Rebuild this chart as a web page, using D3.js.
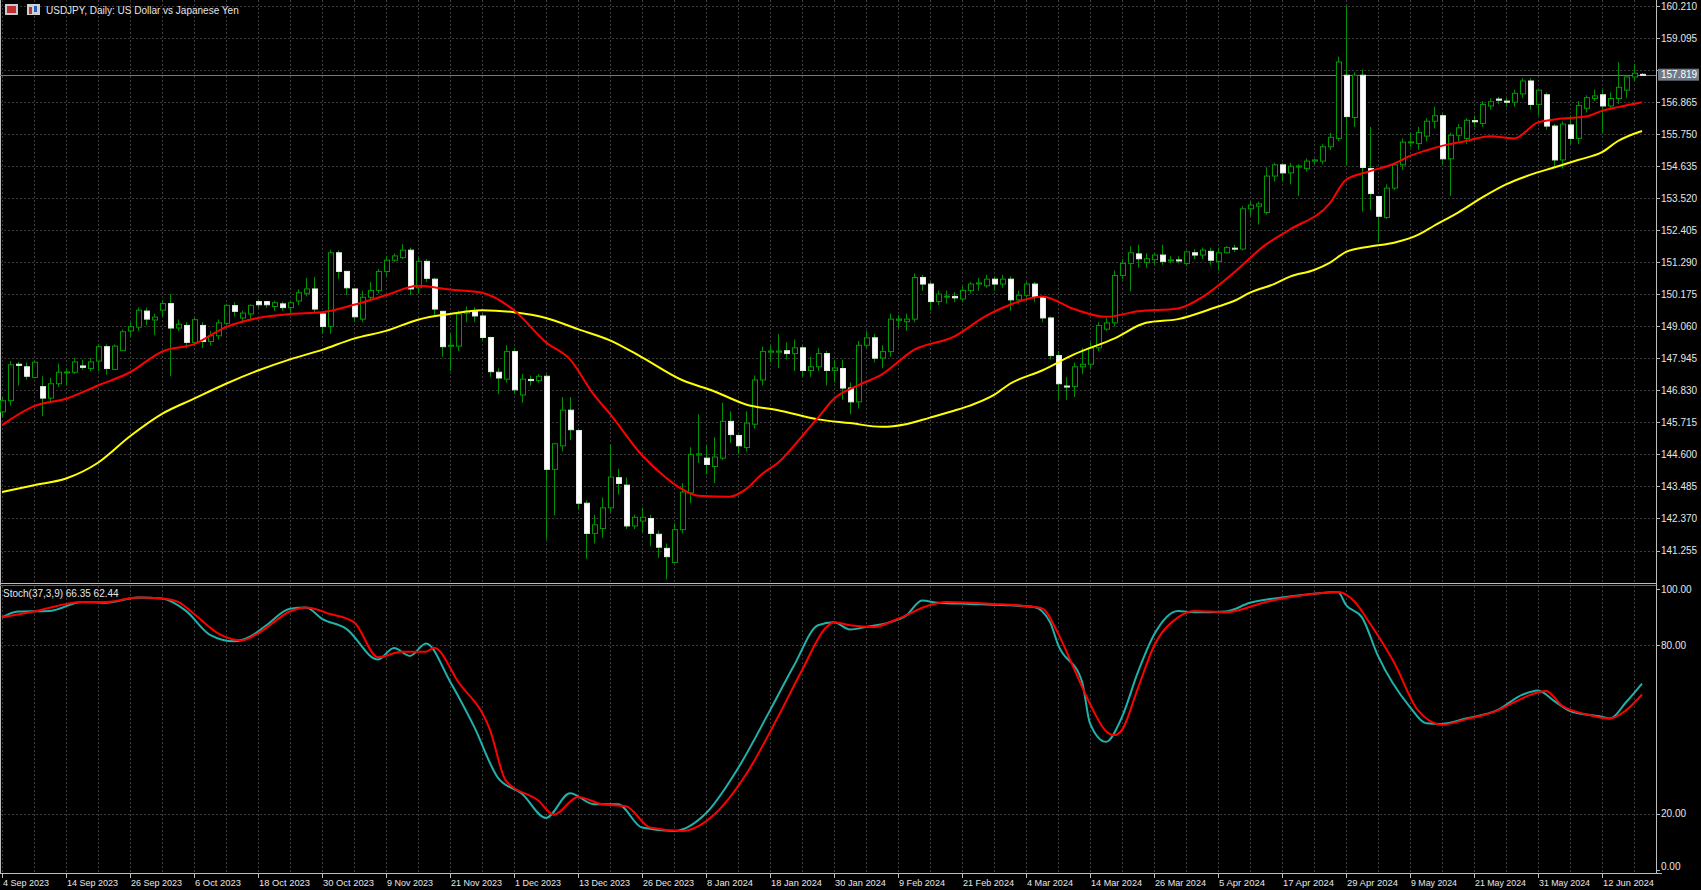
<!DOCTYPE html>
<html>
<head>
<meta charset="utf-8">
<script src="https://cdn.jsdelivr.net/npm/d3@7"></script>
<style>
  body { margin: 0; background: #000; }
  svg { display: block; }
  text { font-family: "Liberation Sans", Arial, sans-serif; font-size: 10px; fill: #e6e6e6; }
</style>
</head>
<body>
<svg width="1701" height="890"></svg>
<script>
// daily OHLC, 4 Sep 2023 .. 19 Jun 2024 (bar index 0..205)
var opens = [146.08,146.47,147.74,147.65,147.28,146.96,146.56,147.06,147.46,147.46,147.68,147.59,147.85,148.35,147.56,148.21,148.90,149.03,149.59,149.28,
  149.62,149.85,149.00,149.09,148.50,149.09,148.53,148.73,149.16,149.78,149.35,149.49,149.92,149.92,149.75,149.84,149.71,149.94,150.21,150.36,
  149.49,149.05,151.62,150.97,150.36,149.31,150.07,150.31,150.97,151.36,151.45,151.71,150.40,151.32,150.70,149.58,148.37,148.37,149.52,149.58,
  149.42,148.67,147.46,147.22,148.18,146.67,147.21,147.17,147.32,144.08,144.90,146.14,145.43,142.90,141.85,142.02,142.74,143.79,143.53,142.11,
  142.28,142.37,141.82,141.33,140.84,141.98,143.26,144.58,144.47,144.18,144.47,145.75,145.26,144.84,145.65,147.19,148.16,148.16,148.21,148.11,
  148.31,147.52,147.65,148.11,147.52,147.59,146.91,146.43,148.40,148.66,147.95,148.18,149.27,149.22,149.31,150.76,150.53,149.92,150.10,150.10,
  150.01,150.31,150.53,150.47,150.70,150.53,150.70,149.98,150.14,150.53,150.07,149.35,148.04,146.98,146.96,147.65,147.74,148.31,148.96,149.18,
  150.83,151.25,151.58,151.28,151.38,151.54,151.36,151.37,151.25,151.62,151.54,151.67,151.32,151.62,151.78,151.75,153.15,153.24,153.02,154.29,
  154.68,154.40,154.63,154.55,154.81,154.81,155.31,155.60,157.80,156.33,157.80,154.55,153.58,152.85,153.87,154.68,155.47,155.42,155.68,156.20,
  156.39,154.89,155.71,155.60,156.22,156.12,156.73,156.97,156.90,156.86,157.15,157.60,156.78,157.12,156.03,154.85,156.07,155.60,156.65,156.99,
  157.12,156.73,156.99,157.28,157.74,157.83];
var highs = [146.60,147.85,147.82,147.80,147.86,147.32,147.27,147.76,147.60,147.96,147.90,147.96,148.43,148.43,148.43,148.95,149.20,149.72,149.71,149.50,
  149.95,150.18,149.30,149.20,149.35,149.20,148.90,149.30,149.85,149.90,149.60,149.82,150.00,149.95,149.95,149.92,149.95,150.35,150.75,150.78,
  149.50,151.72,151.70,151.00,150.40,150.30,150.60,151.05,151.50,151.60,151.92,151.80,151.45,151.40,150.75,149.60,148.80,149.60,149.75,149.72,
  149.50,148.70,147.60,148.40,148.30,147.40,147.35,147.40,147.40,145.00,146.60,146.60,145.50,143.00,142.50,143.10,144.95,144.10,143.80,142.50,
  142.75,142.50,141.95,141.50,142.20,143.60,144.85,146.00,144.90,145.20,146.40,146.10,145.30,146.10,147.35,148.35,148.40,148.80,148.50,148.60,
  148.40,148.00,148.30,148.20,147.90,147.90,147.10,148.55,148.90,148.80,148.40,149.50,149.45,149.50,150.90,150.85,150.60,150.30,150.30,150.25,
  150.45,150.60,150.75,150.85,150.80,150.85,150.80,150.30,150.60,150.60,150.10,149.40,148.20,147.30,147.80,148.30,148.50,149.20,149.35,151.00,
  151.40,151.85,151.90,151.60,151.60,151.90,151.50,151.50,151.70,151.75,151.80,151.80,151.80,151.85,151.90,153.25,153.40,153.40,154.60,154.75,
  154.75,154.75,154.70,154.90,154.90,155.40,155.80,158.45,160.20,157.90,158.00,156.00,153.60,154.00,154.75,155.60,155.80,156.00,156.30,156.70,
  156.45,155.80,156.10,156.30,156.40,156.90,157.00,157.05,157.00,157.30,157.70,157.70,157.30,157.20,156.10,156.20,156.40,156.90,157.10,157.30,
  157.30,157.20,158.25,157.80,158.20,157.88];
var lows = [145.90,146.30,147.00,147.20,147.25,145.93,146.45,146.95,147.00,147.40,147.55,147.50,147.50,147.38,147.55,148.20,148.70,148.90,149.10,148.75,
  149.40,147.32,148.90,148.30,148.40,148.30,148.40,148.60,149.10,149.40,149.20,149.30,149.70,149.70,149.60,149.60,149.50,149.80,150.10,149.55,
  148.80,148.80,150.70,150.15,149.20,149.20,150.00,150.20,150.80,151.30,151.40,150.15,150.20,150.60,149.40,148.00,147.50,148.20,149.20,149.20,
  148.55,147.30,146.70,147.10,146.70,146.40,147.00,147.10,141.63,142.48,144.70,145.10,142.70,140.97,141.50,141.70,142.60,143.20,142.00,142.00,
  141.90,141.40,141.00,140.25,140.80,141.85,142.90,144.30,143.90,143.60,144.40,145.00,144.60,144.70,145.50,147.00,147.80,147.60,147.90,147.50,
  147.30,147.30,147.50,147.00,147.10,146.50,146.00,146.20,148.30,147.80,147.60,148.00,149.00,148.90,149.20,150.30,149.60,149.80,149.85,149.90,
  149.90,150.20,150.30,150.40,150.30,150.40,149.60,149.85,150.00,149.90,149.20,147.90,146.50,146.50,146.60,147.40,147.60,148.20,148.90,149.05,
  150.70,150.27,151.10,151.10,151.20,151.20,151.25,151.25,151.15,151.40,151.40,151.20,151.00,151.60,151.65,151.70,152.90,152.60,152.95,154.10,
  154.10,154.00,153.60,154.45,154.70,154.70,155.20,155.50,154.66,156.00,153.05,153.10,151.97,152.80,153.80,154.50,155.30,155.20,155.50,155.95,
  154.70,153.60,155.50,155.40,156.00,156.00,156.60,156.80,156.70,156.70,157.00,156.60,156.40,155.90,154.60,154.55,155.40,155.40,156.50,156.90,
  155.77,156.60,156.80,157.00,157.60,157.78];
var closes = [146.47,147.72,147.70,147.32,147.81,146.56,147.06,147.46,147.47,147.82,147.63,147.82,148.35,147.59,148.37,148.87,149.05,149.62,149.31,149.38,
  149.85,149.00,149.13,148.50,149.29,148.53,148.73,149.18,149.79,149.58,149.52,149.79,149.81,149.81,149.88,149.71,149.88,150.23,150.36,149.66,
  149.05,151.62,150.97,150.40,149.39,150.07,150.31,150.97,151.36,151.51,151.71,150.36,151.32,150.73,149.66,148.35,148.40,149.49,149.58,149.42,
  148.67,147.48,147.26,148.18,146.85,147.22,147.17,147.32,144.08,144.97,146.14,145.46,142.90,141.85,142.15,142.74,143.81,143.59,142.11,142.41,
  142.41,141.85,141.37,141.04,141.98,143.29,144.60,144.62,144.25,144.51,145.75,145.29,144.90,145.69,147.19,148.18,148.20,148.20,148.11,148.31,
  147.52,147.65,148.11,147.52,147.61,146.91,146.43,148.40,148.66,147.95,148.18,149.31,149.31,149.31,150.76,150.53,149.92,150.18,150.11,150.05,
  150.31,150.53,150.57,150.70,150.53,150.70,149.98,150.14,150.53,150.07,149.35,148.04,147.06,146.96,147.65,147.74,148.31,149.09,149.18,150.83,
  151.25,151.62,151.41,151.41,151.54,151.32,151.37,151.36,151.65,151.54,151.71,151.36,151.62,151.80,151.77,153.15,153.28,153.32,154.29,154.68,
  154.40,154.63,154.64,154.81,154.85,155.31,155.64,158.26,156.36,157.80,154.59,153.68,152.89,153.87,154.68,155.47,155.48,155.81,156.20,156.39,
  154.89,155.71,155.97,156.23,156.18,156.78,156.88,156.93,156.86,157.17,157.60,156.78,157.28,156.03,154.85,156.10,155.60,156.75,157.02,157.08,
  156.73,156.99,157.38,157.74,157.87,157.82];

// moving averages, read at these bar indices
var redIdx = [0,4,8,12,16,20,24,28,32,36,40,44,48,52,56,60,64,68,71,74,76,80,83,85,87,91,93,95,97,100,102,104,107,110,114,119,123,126,130,134,138,142,147,150,152,154,158,161,166,168,171,174,176,178,180,183,186,189,192,195,198,200,202,205];
var redMA = [145.62,146.28,146.54,147.00,147.46,148.18,148.44,149.03,149.35,149.49,149.55,149.81,150.14,150.47,150.34,150.23,149.62,148.50,147.91,146.67,146.01,144.57,143.79,143.39,143.16,143.13,143.39,143.92,144.31,145.23,145.88,146.54,147.00,147.39,148.24,148.70,149.42,149.81,150.10,149.66,149.39,149.58,149.68,150.07,150.47,150.93,151.91,152.43,153.35,154.16,154.46,154.72,154.99,155.18,155.34,155.51,155.68,155.60,156.16,156.29,156.36,156.56,156.69,156.86];
var yelIdx = [0,4,8,12,16,20,24,28,32,36,40,44,48,52,56,60,64,68,72,76,80,85,89,93,97,102,106,110,113,116,119,121,124,126,130,134,139,143,147,152,154,156,159,161,164,166,168,171,174,177,179,182,185,188,191,194,197,200,202,205];
var yelMA = [143.29,143.53,143.76,144.31,145.23,146.01,146.54,147.06,147.52,147.91,148.24,148.63,148.90,149.29,149.49,149.62,149.55,149.35,148.96,148.57,147.98,147.19,146.80,146.34,146.14,145.82,145.69,145.56,145.65,145.88,146.12,146.30,146.67,147.06,147.52,148.08,148.63,149.18,149.31,149.75,149.94,150.23,150.53,150.79,151.02,151.28,151.65,151.84,151.97,152.24,152.56,153.02,153.54,154.00,154.33,154.59,154.85,155.12,155.51,155.86];

// stochastic (37,3,9)
var kIdx = [0,2,6,10,13,17,20,23,26,29,31,33,36,38,40,43,47,49,51,53,56,59,62,65,68,71,74,77,80,84,88,92,96,99,102,104,106,108,111,113,115,117,121,125,129,131,132,135,136,138,140,142,144,147,149,153,156,160,164,167,168,170,172,176,178,180,183,187,190,192,194,196,200,201,203,205];
var kVal = [89.9,92.0,92.2,95.4,95.1,97.0,96.6,92.2,83.7,81.4,83.0,87.0,93.0,93.4,89.4,85.9,74.9,79.0,76.2,80.6,67.1,51.1,32.8,27.1,18.5,27.3,23.4,23.4,15.1,13.9,20.2,36.2,56.8,72.8,87.1,88.2,85.6,86.5,88.2,90.5,95.9,95.1,94.7,94.3,93.6,88.2,80.2,67.1,52.2,45.6,54.5,70.5,83.7,92.2,91.7,92.0,95.1,97.0,98.3,98.9,94.3,89.9,76.2,58.0,52.2,52.0,53.9,57.0,62.3,63.9,60.2,56.6,54.5,53.9,59.7,66.35];
var dIdx = [0,4,10,13,17,20,22,24,27,30,32,36,38,41,44,47,50,53,54,57,61,63,67,69,72,75,78,81,85,89,93,97,100,103,104,106,109,112,116,118,124,128,130,132,134,136,138,139,140,142,144,147,149,153,158,164,167,169,171,174,177,180,183,187,189,193,195,198,201,203,205];
var dVal = [89.9,92.0,95.4,95.4,97.0,96.6,95.4,91.1,84.2,81.7,84.2,92.0,93.4,91.1,88.2,75.7,77.7,77.7,79.1,67.1,49.9,31.7,24.8,19.7,26.0,23.4,22.7,15.1,13.9,19.7,34.0,54.5,71.1,86.3,88.2,87.1,86.5,89.4,94.3,95.4,94.7,93.9,93.1,84.2,71.7,59.1,49.4,48.0,49.9,64.8,79.7,89.9,92.2,91.7,95.4,98.3,98.9,95.7,87.7,73.9,56.8,51.7,53.6,56.8,59.7,63.7,58.5,55.4,53.9,56.8,62.44];

var priceTicks = [160.210,159.095,157.980,156.865,155.750,154.635,153.520,152.405,151.290,150.175,149.060,147.945,146.830,145.715,144.600,143.485,142.370,141.255];
var stochTicks = [100, 80, 20, 0];
var dateIdx = [0,8,16,24,32,40,48,56,64,72,80,88,96,104,112,120,128,136,144,152,160,168,176,184,192,200];
var dateLabels = ["4 Sep 2023","14 Sep 2023","26 Sep 2023","6 Oct 2023","18 Oct 2023","30 Oct 2023","9 Nov 2023","21 Nov 2023","1 Dec 2023","13 Dec 2023",
  "26 Dec 2023","8 Jan 2024","18 Jan 2024","30 Jan 2024","9 Feb 2024","21 Feb 2024","4 Mar 2024","14 Mar 2024","26 Mar 2024","5 Apr 2024",
  "17 Apr 2024","29 Apr 2024","9 May 2024","21 May 2024","31 May 2024","12 Jun 2024"];
var bid = 157.819;

var svg = d3.select("svg"),
  plotRight = 1656,
  mainTop = 0, mainBottom = 583,
  stTop = 586, stBottom = 873;

svg.append("rect").attr("width", 1701).attr("height", 890).attr("fill", "#000");

var x = d3.scaleLinear().domain([0, 1]).range([2, 10]);
var y = d3.scaleLinear().domain([141.255, 160.21]).range([550.5, 6]);
var ys = d3.scaleLinear().domain([0, 100]).range([870, 589]);

var grid = svg.append("g").attr("stroke", "#3a3a3a").attr("stroke-dasharray", "2,2");
d3.range(0, 208, 4).forEach(function(i) {
  grid.append("line").attr("x1", x(i) + 0.5).attr("x2", x(i) + 0.5).attr("y1", mainTop).attr("y2", mainBottom);
  grid.append("line").attr("x1", x(i) + 0.5).attr("x2", x(i) + 0.5).attr("y1", stTop).attr("y2", stBottom);
});
priceTicks.forEach(function(p) {
  grid.append("line").attr("x1", 0).attr("x2", plotRight).attr("y1", Math.round(y(p)) + 0.5).attr("y2", Math.round(y(p)) + 0.5);
});
[80, 20].forEach(function(v) {
  grid.append("line").attr("x1", 0).attr("x2", plotRight).attr("y1", Math.round(ys(v)) + 0.5).attr("y2", Math.round(ys(v)) + 0.5);
});

// frame
var frame = svg.append("g").attr("stroke", "#bdbdbd").attr("fill", "none");
frame.append("line").attr("x1", 0.5).attr("x2", 0.5).attr("y1", 0).attr("y2", stBottom);
frame.append("line").attr("x1", plotRight + 0.5).attr("x2", plotRight + 0.5).attr("y1", 0).attr("y2", stBottom);
frame.append("line").attr("x1", 0).attr("x2", plotRight).attr("y1", mainBottom + 0.5).attr("y2", mainBottom + 0.5);
frame.append("line").attr("x1", 0).attr("x2", plotRight).attr("y1", stTop - 0.5).attr("y2", stTop - 0.5).attr("stroke", "#666");
frame.append("line").attr("x1", 0).attr("x2", plotRight + 6).attr("y1", stBottom + 0.5).attr("y2", stBottom + 0.5);

// bid line
svg.append("line").attr("x1", 0).attr("x2", plotRight).attr("y1", Math.round(y(bid)) + 0.5).attr("y2", Math.round(y(bid)) + 0.5)
  .attr("stroke", "#6f7a86").attr("stroke-width", 1);

// candles
var bars = d3.range(closes.length);
var cg = svg.append("g");
cg.selectAll("line.wick").data(bars).enter().append("line")
  .attr("x1", function(i) { return Math.round(x(i)) + 0.5; })
  .attr("x2", function(i) { return Math.round(x(i)) + 0.5; })
  .attr("y1", function(i) { return y(highs[i]); })
  .attr("y2", function(i) { return y(lows[i]); })
  .attr("stroke", "#008f00");
cg.selectAll("rect").data(bars).enter().append("rect")
  .attr("x", function(i) { return Math.round(x(i)) - 2 + 0.5; })
  .attr("y", function(i) { return y(Math.max(opens[i], closes[i])); })
  .attr("width", 5)
  .attr("height", function(i) { return Math.max(1, Math.abs(y(opens[i]) - y(closes[i]))); })
  .attr("fill", function(i) { return closes[i] >= opens[i] ? "#000" : "#fff"; })
  .attr("stroke", function(i) { return closes[i] >= opens[i] ? "#009a00" : "#e8e8e8"; });

// moving averages
var maLine = function(idx, vals) {
  return d3.line().curve(d3.curveMonotoneX)
    .x(function(d, k) { return x(idx[k]); })
    .y(function(d) { return y(d); })(vals);
};
svg.append("path").attr("d", maLine(yelIdx, yelMA)).attr("fill", "none").attr("stroke", "#ffff00").attr("stroke-width", 2);
svg.append("path").attr("d", maLine(redIdx, redMA)).attr("fill", "none").attr("stroke", "#ff0000").attr("stroke-width", 2);

// stochastic
var stLine = function(idx, vals) {
  return d3.line().curve(d3.curveMonotoneX)
    .x(function(d, k) { return x(idx[k]); })
    .y(function(d) { return ys(d); })(vals);
};
svg.append("path").attr("d", stLine(kIdx, kVal)).attr("fill", "none").attr("stroke", "#20b2aa").attr("stroke-width", 2);
svg.append("path").attr("d", stLine(dIdx, dVal)).attr("fill", "none").attr("stroke", "#ff0000").attr("stroke-width", 2);

// price axis (the tick hidden under the bid label is not drawn)
var pa = svg.append("g");
priceTicks.forEach(function(p) {
  pa.append("line").attr("x1", plotRight).attr("x2", plotRight + 4).attr("y1", Math.round(y(p)) + 0.5).attr("y2", Math.round(y(p)) + 0.5).attr("stroke", "#bdbdbd");
  if (Math.abs(y(p) - y(bid)) > 11) {
    pa.append("text").attr("x", plotRight + 5).attr("y", y(p)).attr("dy", "0.35em").text(p.toFixed(3));
  }
});
pa.append("rect").attr("x", plotRight + 2).attr("y", y(bid) - 6).attr("width", 41).attr("height", 12).attr("fill", "#6f7a86");
pa.append("text").attr("x", plotRight + 5).attr("y", y(bid)).attr("dy", "0.35em").style("fill", "#fff").text(bid.toFixed(3));

var sa = svg.append("g");
stochTicks.forEach(function(v) {
  sa.append("line").attr("x1", plotRight).attr("x2", plotRight + 4).attr("y1", Math.round(ys(v)) + 0.5).attr("y2", Math.round(ys(v)) + 0.5).attr("stroke", "#bdbdbd");
  sa.append("text").attr("x", plotRight + 5).attr("y", ys(v)).attr("dy", v === 0 ? "0em" : "0.35em").text(v.toFixed(2));
});

// time axis
var ta = svg.append("g");
dateIdx.forEach(function(i, k) {
  ta.append("line").attr("x1", Math.round(x(i)) + 0.5).attr("x2", Math.round(x(i)) + 0.5).attr("y1", stBottom).attr("y2", stBottom + 5).attr("stroke", "#bdbdbd");
  ta.append("text").attr("x", x(i) + 1).attr("y", 886).style("font-size", "9.5px").attr("textLength", dateLabels[k].length > 10 ? 51 : 46).attr("lengthAdjust", "spacingAndGlyphs").text(dateLabels[k]);
});

// captions
var ic = svg.append("g");
ic.append("rect").attr("x", 5).attr("y", 4).attr("width", 13).attr("height", 11).attr("fill", "#c8c8d0");
ic.append("rect").attr("x", 7).attr("y", 6).attr("width", 9).attr("height", 7).attr("fill", "#c03030");
ic.append("rect").attr("x", 27).attr("y", 4).attr("width", 13).attr("height", 11).attr("fill", "#d0d0d0");
ic.append("rect").attr("x", 29).attr("y", 7).attr("width", 3).attr("height", 7).attr("fill", "#c03030");
ic.append("rect").attr("x", 34).attr("y", 6).attr("width", 3).attr("height", 6).attr("fill", "#2060c0");
svg.append("text").attr("x", 46).attr("y", 14).text("USDJPY, Daily:  US Dollar vs Japanese Yen");
svg.append("text").attr("x", 3).attr("y", 597).text("Stoch(37,3,9) 66.35 62.44");
</script>
</body>
</html>
